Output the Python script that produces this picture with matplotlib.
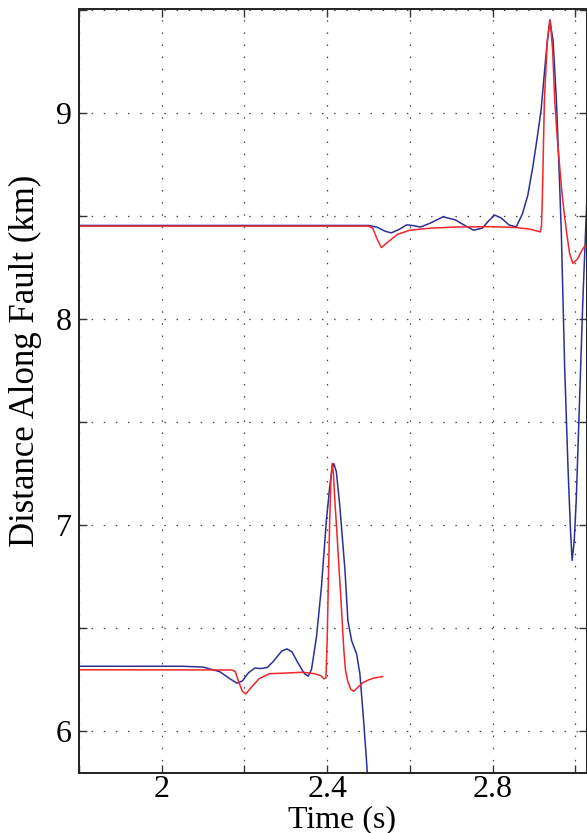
import matplotlib
matplotlib.use("Agg")
import matplotlib.pyplot as plt
import numpy as np

# rupture front position vs time
# lower branch
t_blue_lo = [1.80, 2.05, 2.10, 2.14, 2.165, 2.182, 2.195, 2.21, 2.225, 2.24, 2.255, 2.27,
             2.29, 2.303, 2.315, 2.33, 2.345, 2.354, 2.362, 2.374, 2.386, 2.398, 2.406,
             2.412, 2.416, 2.422, 2.430, 2.443, 2.450, 2.459, 2.471, 2.479, 2.488, 2.497, 2.502]
d_blue_lo = [6.316, 6.316, 6.312, 6.29, 6.255, 6.234, 6.245, 6.285, 6.307, 6.305, 6.31, 6.34,
             6.39, 6.40, 6.385, 6.33, 6.28, 6.268, 6.30, 6.457, 6.70, 7.023, 7.185,
             7.28, 7.298, 7.26, 7.104, 6.78, 6.538, 6.44, 6.376, 6.279, 6.053, 5.80, 5.65]

t_red_lo = [1.80, 2.17, 2.178, 2.186, 2.195, 2.203, 2.215, 2.235, 2.26, 2.30, 2.34, 2.37,
            2.385, 2.392, 2.397, 2.400, 2.403, 2.406, 2.409, 2.412, 2.415, 2.419, 2.423,
            2.427, 2.432, 2.436, 2.440, 2.444, 2.450, 2.457, 2.464, 2.472, 2.485, 2.50,
            2.515, 2.534]
d_red_lo = [6.299, 6.298, 6.29, 6.24, 6.195, 6.182, 6.21, 6.255, 6.28, 6.283, 6.287, 6.28,
            6.27, 6.255, 6.26, 6.45, 6.75, 7.02, 7.22, 7.30, 7.25, 7.10, 6.98,
            6.84, 6.68, 6.54, 6.40, 6.30, 6.24, 6.205, 6.195, 6.21, 6.235, 6.25,
            6.26, 6.266]

# upper branch
t_blue_hi = [1.80, 2.50, 2.52, 2.54, 2.555, 2.575, 2.592, 2.61, 2.625, 2.65, 2.68, 2.71,
             2.735, 2.754, 2.775, 2.79, 2.805, 2.82, 2.84, 2.857, 2.872, 2.885, 2.897,
             2.907, 2.917, 2.93, 2.938, 2.946, 2.954, 2.961, 2.966, 2.97, 2.974, 2.982,
             2.988, 2.992, 2.997, 3.002, 3.01, 3.018, 3.028]
d_blue_hi = [8.453, 8.453, 8.445, 8.425, 8.417, 8.435, 8.456, 8.452, 8.445, 8.465, 8.495, 8.48,
             8.45, 8.43, 8.44, 8.475, 8.503, 8.49, 8.455, 8.446, 8.51, 8.60, 8.737,
             8.87, 9.012, 9.304, 9.449, 9.35, 9.06, 8.70, 8.414, 8.09, 7.767, 7.282,
             6.98, 6.829, 6.92, 7.12, 7.605, 8.09, 8.60]

t_red_hi = [1.80, 2.50, 2.51, 2.52, 2.531, 2.545, 2.57, 2.60, 2.65, 2.72, 2.80, 2.857,
            2.89, 2.915, 2.918, 2.92, 2.925, 2.932, 2.939, 2.945, 2.95, 2.956, 2.962,
            2.968, 2.974, 2.98, 2.986, 2.994, 3.005, 3.015, 3.028]
d_red_hi = [8.450, 8.450, 8.44, 8.39, 8.346, 8.37, 8.41, 8.43, 8.44, 8.446, 8.447, 8.443,
            8.435, 8.422, 8.45, 8.576, 9.06, 9.35, 9.449, 9.30, 9.06, 8.88, 8.737,
            8.60, 8.495, 8.40, 8.317, 8.269, 8.29, 8.33, 8.37]

blue = "#2b2f98"
red = "#f0262a"

plt.rcParams["font.family"] = ["Liberation Serif", "DejaVu Serif"]

fig = plt.figure(figsize=(5.87, 8.33), dpi=100)
ax = fig.add_axes([79 / 587, 60.3 / 833, 1 - 79 / 587, 763.2 / 833])

ax.plot(t_blue_lo, d_blue_lo, color=blue, lw=1.1)
ax.plot(t_blue_hi, d_blue_hi, color=blue, lw=1.1)
ax.plot(t_red_lo, d_red_lo, color=red, lw=1.1)
ax.plot(t_red_hi, d_red_hi, color=red, lw=1.1)

ax.set_xlim(1.8, 3.028)
ax.set_ylim(5.8, 9.5)

xt = [1.8, 2.0, 2.2, 2.4, 2.6, 2.8, 3.0]
xl = ["", "2", "", "2.4", "", "2.8", ""]
yt = [6.0, 6.5, 7.0, 7.5, 8.0, 8.5, 9.0, 9.5]
yl = ["6", "", "7", "", "8", "", "9", ""]
ax.set_xticks(xt)
ax.set_xticklabels(xl)
ax.set_yticks(yt)
ax.set_yticklabels(yl)

ax.tick_params(direction="in", length=6, width=1, labelsize=23,
               top=True, right=True, color="#333333")
ax.tick_params(axis="x", pad=2)
ax.tick_params(axis="y", pad=5)

ax.grid(True, color="#444444", lw=0.9, linestyle=(0, (1.2, 8.5)))

for s in ax.spines.values():
    s.set_linewidth(1.4)
    s.set_color("#222222")

ax.set_xlabel("Time (s)", fontsize=23)
ax.set_ylabel("Distance Along Fault (km)", fontsize=25)
ax.xaxis.set_label_coords(0.518, -0.0708)
ax.xaxis.label.set_verticalalignment("baseline")
ax.yaxis.set_label_coords(-0.106, 0.539)
ax.yaxis.label.set_verticalalignment("center")

fig.savefig("out.png", dpi=100)
